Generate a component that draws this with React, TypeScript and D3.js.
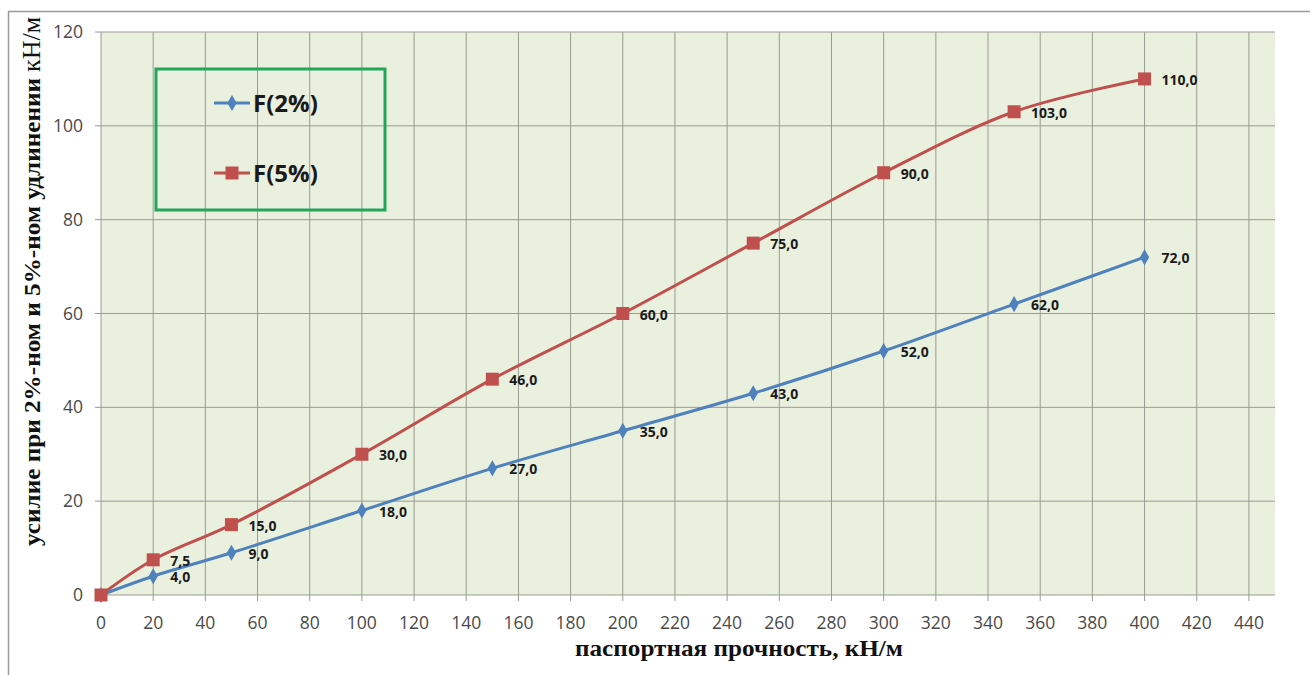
import React from "react";
import * as d3 from "d3";

const strengths = [0, 20, 50, 100, 150, 200, 250, 300, 350, 400];
const force2 = [0, 4, 9, 18, 27, 35, 43, 52, 62, 72];
const force5 = [0, 7.5, 15, 30, 46, 60, 75, 90, 103, 110];
const xTicks = d3.range(0, 441, 20);
const yTicks = [0, 20, 40, 60, 80, 100, 120];
const seriesNames = ["F(2%)", "F(5%)"];

const W = 1312;
const H = 675;
const plot = { left: 101, right: 1275, top: 32, bottom: 595 };

const BLUE = "#4F81BD";
const RED = "#C0504D";
const TICK_FONT = "'Open Sans', sans-serif";

export default function App() {
  const x = d3.scaleLinear().domain([0, 450]).range([plot.left, plot.right]);
  const y = d3.scaleLinear().domain([0, 120]).range([plot.bottom, plot.top]);

  const line = d3
    .line<[number, number]>()
    .x((d) => x(d[0]))
    .y((d) => y(d[1]))
    .curve(d3.curveCatmullRom.alpha(0.5));

  const pts2: [number, number][] = strengths.map((s, i) => [s, force2[i]]);
  const pts5: [number, number][] = strengths.map((s, i) => [s, force5[i]]);
  const fmt = (v: number) => v.toFixed(1).replace(".", ",");

  const diamond = d3.symbol().type(d3.symbolDiamond).size(75)() as string;

  const label = (p: [number, number], key: string) => (
    <text
      key={key}
      x={x(p[0]) + 17}
      y={y(p[1]) + 6}
      fontFamily={TICK_FONT}
      fontWeight="bold"
      fontSize={14}
      fill="#1a1a1a"
    >
      {fmt(p[1])}
    </text>
  );

  return (
    <svg
      width={W}
      height={H}
      style={{ position: "absolute", left: 0, top: 0, background: "#fff" }}
    >
      {/* outer frame */}
      <line x1={8} y1={11.5} x2={1310} y2={11.5} stroke="#9a9a9a" strokeWidth={1.5} />
      <line x1={8.5} y1={11} x2={8.5} y2={H} stroke="#9a9a9a" strokeWidth={1.5} />

      {/* plot background */}
      <rect
        x={plot.left}
        y={plot.top}
        width={plot.right - plot.left}
        height={plot.bottom - plot.top}
        fill="#EAF0DE"
      />

      {/* grid */}
      {xTicks.map((t) => (
        <line
          key={"gx" + t}
          x1={x(t)}
          x2={x(t)}
          y1={plot.top}
          y2={plot.bottom + 6}
          stroke="#9a9a92"
          strokeWidth={1}
        />
      ))}
      {yTicks.map((t) => (
        <line
          key={"gy" + t}
          x1={plot.left - 6}
          x2={plot.right}
          y1={y(t)}
          y2={y(t)}
          stroke="#9a9a92"
          strokeWidth={1}
        />
      ))}

      {/* tick labels */}
      {xTicks.map((t) => (
        <text
          key={"tx" + t}
          x={x(t)}
          y={plot.bottom + 34}
          textAnchor="middle"
          fontFamily={TICK_FONT}
          fontSize={17.5}
          fill="#4a4a4a"
        >
          {t}
        </text>
      ))}
      {yTicks.map((t) => (
        <text
          key={"ty" + t}
          x={plot.left - 18}
          y={y(t) + 6}
          textAnchor="end"
          fontFamily={TICK_FONT}
          fontSize={17.5}
          fill="#4a4a4a"
        >
          {t}
        </text>
      ))}

      {/* axis titles */}
      <text
        x={739}
        y={656}
        textAnchor="middle"
        fontFamily="'Liberation Serif', serif"
        fontWeight="bold"
        fontSize={24}
        fill="#111"
        textLength={328}
        lengthAdjust="spacingAndGlyphs"
      >
        паспортная прочность, кН/м
      </text>
      <text
        transform="translate(40,546) rotate(-90)"
        fontFamily="'Liberation Serif', serif"
        fontSize={24}
        fill="#111"
      >
        <tspan fontWeight="bold" textLength={468} lengthAdjust="spacingAndGlyphs">
          усилие при 2%-ном и 5%-ном удлинении
        </tspan>
        <tspan fontSize={26} dx={6}>кН/м</tspan>
      </text>

      {/* series lines */}
      <path d={line(pts5) as string} fill="none" stroke={RED} strokeWidth={3} />
      <path d={line(pts2) as string} fill="none" stroke={BLUE} strokeWidth={3} />

      {/* markers */}
      {pts2.map((p, i) => (
        <path
          key={"m2" + i}
          d={diamond}
          transform={`translate(${x(p[0])},${y(p[1])})`}
          fill={BLUE}
        />
      ))}
      {pts5.map((p, i) => (
        <rect
          key={"m5" + i}
          x={x(p[0]) - 6.5}
          y={y(p[1]) - 6.5}
          width={13}
          height={13}
          fill={RED}
        />
      ))}

      {/* data labels */}
      {pts2.slice(1).map((p, i) => label(p, "l2" + i))}
      {pts5.slice(1).map((p, i) => label(p, "l5" + i))}

      {/* legend */}
      <rect x={156} y={69} width={229} height={141} fill="none" stroke="#25A55A" strokeWidth={3} />
      <line x1={214} y1={103} x2={250} y2={103} stroke={BLUE} strokeWidth={3} />
      <path d={diamond} transform="translate(232,103)" fill={BLUE} />
      <text
        x={253}
        y={112}
        fontFamily={TICK_FONT}
        fontWeight="bold"
        fontSize={24}
        fill="#1a1a1a"
      >
        {seriesNames[0]}
      </text>
      <line x1={214} y1={173} x2={250} y2={173} stroke={RED} strokeWidth={3} />
      <rect x={225.5} y={166.5} width={13} height={13} fill={RED} />
      <text
        x={253}
        y={182}
        fontFamily={TICK_FONT}
        fontWeight="bold"
        fontSize={24}
        fill="#1a1a1a"
      >
        {seriesNames[1]}
      </text>
    </svg>
  );
}
